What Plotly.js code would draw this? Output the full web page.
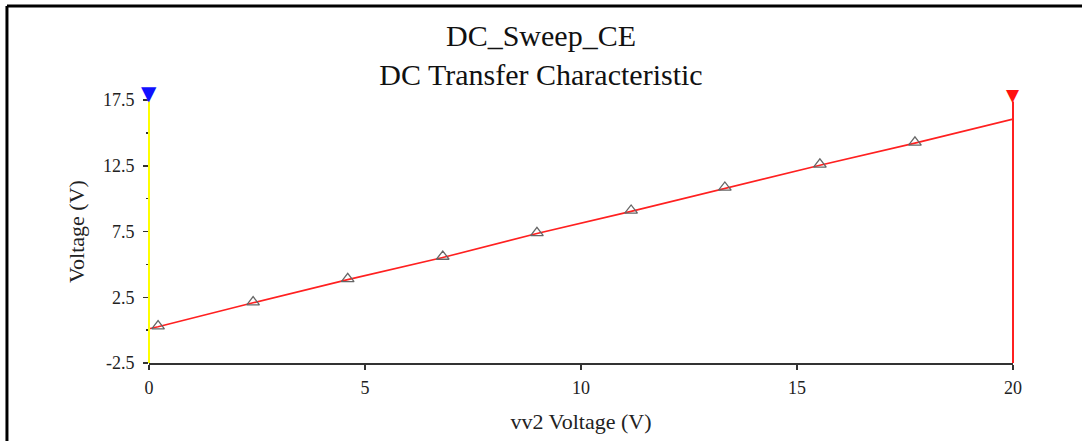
<!DOCTYPE html>
<html>
<head>
<meta charset="utf-8">
<script src="https://cdn.plot.ly/plotly-3.0.1.min.js"></script>
<style>
html,body{margin:0;padding:0;background:#fff;}
#chart{width:1082px;height:441px;}
</style>
</head>
<body>
<div id="chart"></div>
<script>
// Data
const lineX = [0, 0.21, 2.41, 4.6, 6.8, 8.98, 11.16, 13.33, 15.53, 17.73, 20];
const lineY = [0.1, 0.25, 2.08, 3.84, 5.52, 7.35, 9.03, 10.78, 12.54, 14.22, 16.05];
const markerX = [0.21, 2.41, 4.6, 6.8, 8.98, 11.16, 13.33, 15.53, 17.73];
const markerY = [0.3, 2.13, 3.9, 5.6, 7.4, 9.1, 10.85, 12.6, 14.28];
const cursorX = [0, 20];
const cursorColors = ["#ffff00", "#ff2020"];
const cursorFlagColors = ["#1010ff", "#ff1010"];
const yTickVals = [-2.5, 2.5, 7.5, 12.5, 17.5];
const yTickText = ["-2.5", "2.5", "7.5", "12.5", "17.5"];
const yMinorVals = [0, 5, 10, 15];
const xTickVals = [0, 5, 10, 15, 20];
const xTickText = ["0", "5", "10", "15", "20"];
const yRange = [-2.5, 17.5];
const xRange = [0, 20];

const serif = "Liberation Serif, Times New Roman, serif";

const traces = [
  {
    x: lineX, y: lineY, type: "scatter", mode: "lines",
    line: {color: "#ff2020", width: 1.6},
    hoverinfo: "skip", showlegend: false
  },
  {
    x: markerX, y: markerY, type: "scatter", mode: "markers",
    marker: {symbol: "triangle-up-open", size: 11, color: "#666666", line: {width: 1.3, color: "#666666"}},
    hoverinfo: "skip", showlegend: false
  }
];

const annotations = [];
cursorX.forEach((cx, i) => {
  // cursor vertical line
  annotations.push({
    x: cx, y: yRange[0], xref: "x", yref: "y",
    ax: cx, ay: yRange[1], axref: "x", ayref: "y",
    text: "", showarrow: true, arrowhead: 0, arrowwidth: 2,
    arrowcolor: cursorColors[i], standoff: 0, startstandoff: 0
  });
  // cursor flag on top
  annotations.push({
    x: cx, y: yRange[1], xref: "x", yref: "y",
    text: "▼", showarrow: false, yanchor: "bottom", yshift: -7,
    font: {family: "DejaVu Sans", size: i === 0 ? 20 : 17, color: cursorFlagColors[i]}
  });
});

const layout = {
  width: 1082, height: 441,
  margin: {l: 149, r: 69, t: 100, b: 78},
  paper_bgcolor: "#ffffff", plot_bgcolor: "#ffffff",
  font: {family: serif, color: "#111111", size: 18},
  title: {
    text: "DC_Sweep_CE<br>DC Transfer Characteristic",
    font: {family: serif, size: 30, color: "#111111"},
    xref: "container", x: 0.5, xanchor: "center",
    yref: "container", y: 0.895, yanchor: "top"
  },
  xaxis: {
    range: xRange, showgrid: false, zeroline: false,
    showline: true, linecolor: "#333333", linewidth: 2,
    ticks: "outside", ticklen: 5, tickwidth: 1.5, tickcolor: "#333333",
    tickvals: xTickVals, ticktext: xTickText,
    ticklabelstandoff: 2,
    tickfont: {family: serif, size: 18, color: "#222222"},
    title: {text: "vv2 Voltage (V)", font: {family: serif, size: 22, color: "#222222"}, standoff: 17}
  },
  yaxis: {
    range: yRange, showgrid: false, zeroline: false,
    showline: false,
    ticks: "outside", ticklen: 5, tickwidth: 1.5, tickcolor: "#333333",
    tickvals: yTickVals, ticktext: yTickText,
    ticklabelstandoff: 5,
    minor: {tickvals: yMinorVals, ticks: "outside", ticklen: 2, tickcolor: "#333333", tickwidth: 1.5},
    tickfont: {family: serif, size: 18, color: "#222222"},
    title: {text: "Voltage (V)", font: {family: serif, size: 22, color: "#222222"}, standoff: 12}
  },
  annotations: annotations,
  shapes: [
    {type: "line", xref: "paper", yref: "paper", x0: -0.1644, x1: 1.09, y0: 1.3574, y1: 1.3574,
     line: {color: "#000000", width: 3}},
    {type: "line", xref: "paper", yref: "paper", x0: -0.1644, x1: -0.1644, y0: 1.3574, y1: -0.31,
     line: {color: "#000000", width: 3}}
  ]
};

Plotly.newPlot("chart", traces, layout, {displayModeBar: false, staticPlot: true});
</script>
</body>
</html>
